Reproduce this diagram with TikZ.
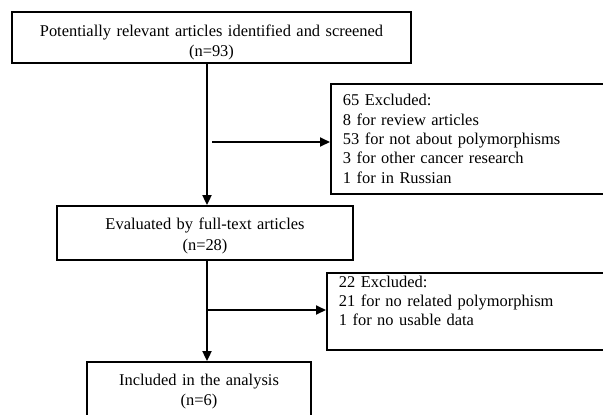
\documentclass[tikz,border=0pt]{standalone}
\usepackage{fontspec}
\setmainfont{Liberation Serif}
\usetikzlibrary{arrows.meta}
\tikzset{
  mainbox/.style={draw, line width=1.8bp, align=center, inner sep=0pt,
    font=\fontsize{16.5}{21}\selectfont},
  exclbox/.style={draw, line width=1.8bp, align=left, anchor=north west,
    inner xsep=12bp, inner ysep=0pt, text width=266bp,
    font=\fontsize{16.5}{19.5}\selectfont},
  flow/.style={line width=1.8bp, -{Triangle[length=10bp,width=9bp]}}
}
\begin{document}
\begin{tikzpicture}[x=1bp,y=-1bp]
  \useasboundingbox (0,0) rectangle (603,414);
  \clip (0,0) rectangle (603,414);
  % main steps
  \node[mainbox, text width=380bp, text height=21.5bp,
    minimum width=399bp, minimum height=51bp] (found) at (211.5,37.5)
    {Potentially relevant articles identified and screened\\(n=93)};
  \node[mainbox, text width=280bp, text height=17.5bp,
    minimum width=296bp, minimum height=54bp] (fulltext) at (205,233)
    {Evaluated by full-text articles\\(n=28)};
  \node[mainbox, text width=210bp, text height=16.5bp,
    minimum width=224bp, minimum height=54bp] (included) at (199,389)
    {Included in the analysis\\(n=6)};
  % exclusions
  \node[exclbox, minimum width=290bp, minimum height=110bp] (excla) at (330,83)
    {65 Excluded:\\8 for review articles\\53 for not about polymorphisms\\3 for other cancer research\\1 for in Russian};
  \node[exclbox, text depth=60bp, minimum width=290bp, minimum height=77bp] (exclb) at (326,272)
    {22 Excluded:\\21 for no related polymorphism\\1 for no usable data};
  % connectors
  \coordinate (spine) at (207,0);
  \coordinate (brancha) at (212,142);
  \coordinate (branchb) at (207,310);
  \draw[flow] (spine |- found.south) -- (spine |- fulltext.north);
  \draw[flow] (spine |- fulltext.south) -- (spine |- included.north);
  \draw[flow] (brancha) -- (brancha -| excla.west);
  \draw[flow] (branchb) -- (branchb -| exclb.west);
\end{tikzpicture}
\end{document}
